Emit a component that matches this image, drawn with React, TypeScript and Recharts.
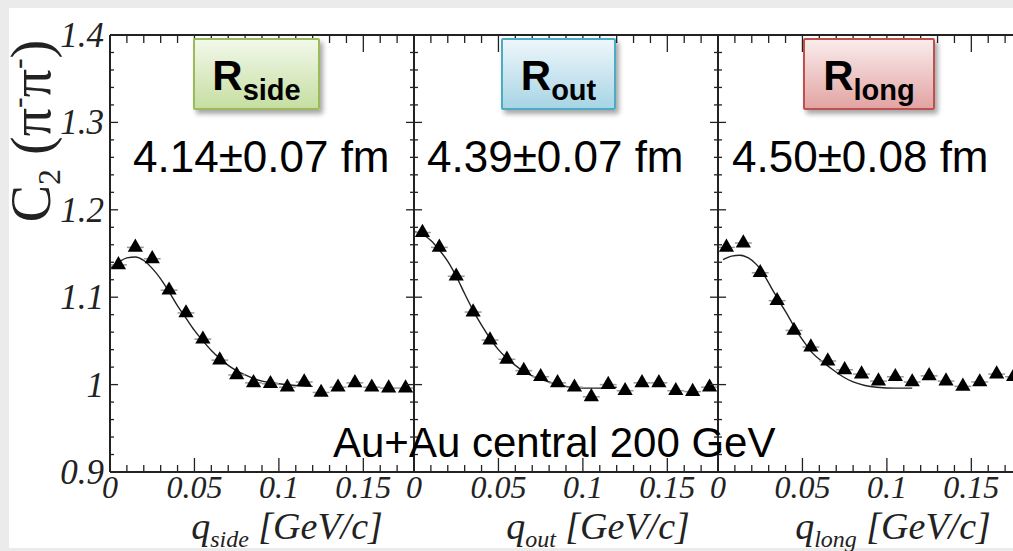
import React from 'react'
import { ComposedChart, Line, Scatter, XAxis, YAxis, ZAxis, ErrorBar } from 'recharts'

// q bin centres (GeV/c), same binning in all three projections
const qBins = [
  0.005, 0.015, 0.025, 0.035, 0.045, 0.055, 0.065, 0.075, 0.085,
  0.095, 0.105, 0.115, 0.125, 0.135, 0.145, 0.155, 0.165, 0.175,
]

// measured C2 per projection
const c2Side = [1.137, 1.157, 1.144, 1.108, 1.082, 1.052, 1.028, 1.011, 1.002, 1.001, 0.997, 1.003, 0.991, 0.997, 1.002, 0.997, 0.996, 0.996]
const c2Out = [1.174, 1.157, 1.124, 1.083, 1.051, 1.029, 1.016, 1.009, 1.002, 0.997, 0.986, 1.0, 0.993, 1.002, 1.002, 0.993, 0.992, 0.997]
const c2Long = [1.157, 1.162, 1.128, 1.096, 1.062, 1.043, 1.027, 1.017, 1.012, 1.004, 1.009, 1.003, 1.01, 1.004, 0.998, 1.003, 1.012, 1.009]

const qHalfBin = 0.005
const c2Err = 0.004

// fit curves
const fitSideQ = [0, 0.005, 0.01, 0.015, 0.02, 0.025, 0.03, 0.035, 0.04, 0.045, 0.05, 0.055, 0.06, 0.065, 0.07, 0.08, 0.09, 0.1, 0.11, 0.12]
const fitSideC = [1.133, 1.14, 1.145, 1.146, 1.142, 1.133, 1.121, 1.106, 1.09, 1.076, 1.062, 1.05, 1.039, 1.03, 1.022, 1.011, 1.004, 1.001, 0.999, 0.998]
const fitOutQ = [0, 0.005, 0.01, 0.015, 0.02, 0.025, 0.03, 0.035, 0.04, 0.045, 0.05, 0.055, 0.06, 0.065, 0.07, 0.08, 0.09, 0.1, 0.11, 0.12]
const fitOutC = [1.175, 1.172, 1.165, 1.154, 1.141, 1.124, 1.104, 1.085, 1.068, 1.053, 1.04, 1.03, 1.022, 1.015, 1.01, 1.003, 0.998, 0.996, 0.996, 0.997]
const fitLongQ = [0.003, 0.008, 0.013, 0.018, 0.023, 0.028, 0.033, 0.037, 0.042, 0.047, 0.052, 0.056, 0.062, 0.068, 0.074, 0.08, 0.087, 0.094, 0.105, 0.115]
const fitLongC = [1.143, 1.147, 1.148, 1.145, 1.137, 1.123, 1.106, 1.093, 1.077, 1.06, 1.046, 1.036, 1.026, 1.017, 1.009, 1.003, 0.999, 0.997, 0.996, 0.996]

// axes
const xTicks = [0, 0.01, 0.02, 0.03, 0.04, 0.05, 0.06, 0.07, 0.08, 0.09, 0.1, 0.11, 0.12, 0.13, 0.14, 0.15, 0.16, 0.17, 0.18]
const xMajor = [0, 0.05, 0.1, 0.15]
const xMajorLabels = ['0', '0.05', '0.1', '0.15']
const yTicks = [0.9, 0.92, 0.94, 0.96, 0.98, 1.0, 1.02, 1.04, 1.06, 1.08, 1.1, 1.12, 1.14, 1.16, 1.18, 1.2, 1.22, 1.24, 1.26, 1.28, 1.3, 1.32, 1.34, 1.36, 1.38, 1.4]
const yMajor = [0.9, 1.0, 1.1, 1.2, 1.3, 1.4]
const yMajorLabels = ['0.9', '1', '1.1', '1.2', '1.3', '1.4']

const projections = ['side', 'out', 'long']
const radii = ['4.14±0.07 fm', '4.39±0.07 fm', '4.50±0.08 fm']
const caption = 'Au+Au central 200 GeV'

const W = 1013
const H = 551
const CHART_W = 1040
const PLOT_TOP = 35
const PLOT_BOTTOM = 472
const AXIS = '#222'
const SERIF = '"Liberation Serif", "Times New Roman", serif'
const SANS = '"Liberation Sans", Arial, sans-serif'

const toRows = (q: number[], c: number[]) => q.map((v, i) => ({ q: v, c: c[i] }))
const toPoints = (c: number[]) => qBins.map((q, i) => ({ q, c: c[i], ex: qHalfBin, ey: c2Err }))

const panels = [
  { left: 110, right: 414, points: toPoints(c2Side), fit: toRows(fitSideQ, fitSideC), titleX: 287,
    box: { x: 193, w: 127, top: '#f2f8ea', bottom: '#c6dea2', border: '#9bbb59' }, radiusX: 133 },
  { left: 414, right: 718, points: toPoints(c2Out), fit: toRows(fitOutQ, fitOutC), titleX: 598,
    box: { x: 501, w: 115, top: '#eef7fb', bottom: '#a8d5e5', border: '#4bacc6' }, radiusX: 427 },
  { left: 718, right: 1022, points: toPoints(c2Long), fit: toRows(fitLongQ, fitLongC), titleX: 893,
    box: { x: 803, w: 132, top: '#faecec', bottom: '#e2a4a3', border: '#c0504d' }, radiusX: 732 },
]

const labelFor = (v: number, majors: number[], labels: string[]) => {
  const i = majors.findIndex((m) => Math.abs(m - v) < 1e-6)
  return i < 0 ? null : labels[i]
}

// tick marks point into the frame; only the bottom/left ones carry numbers
function XTick(props: any) {
  const { x, y, payload, side, showLabels } = props
  const label = labelFor(payload.value, xMajor, xMajorLabels)
  const len = side === 'top' ? (label !== null ? 17 : 8) : (label !== null ? 14 : 7)
  const y2 = side === 'top' ? y + len : y - len
  return (
    <g>
      <line x1={x} x2={x} y1={y} y2={y2} stroke={AXIS} strokeWidth={1.3} />
      {showLabels && label !== null && (
        <text x={x} y={y + 26} textAnchor="middle" fontFamily={SERIF} fontStyle="italic" fontSize={32} fill="#222">
          {label}
        </text>
      )}
    </g>
  )
}

function YTick(props: any) {
  const { x, y, payload, side, showLabels } = props
  const label = labelFor(payload.value, yMajor, yMajorLabels)
  const len = label !== null ? 8 : 4
  const x2 = side === 'right' ? x - len : x + len
  return (
    <g>
      <line x1={x} x2={x2} y1={y} y2={y} stroke={AXIS} strokeWidth={1.3} />
      {showLabels && label !== null && (
        <text x={x - 6} y={y + 12} textAnchor="end" fontFamily={SERIF} fontStyle="italic" fontSize={35} fill="#222">
          {label}
        </text>
      )}
    </g>
  )
}

function Panel({ p, first }: { p: (typeof panels)[number]; first: boolean }) {
  const axisLine = { stroke: AXIS, strokeWidth: 2 }
  // each axis takes a 1px band, so the margins are one pixel short of the plot edges
  return (
    <ComposedChart
      width={CHART_W}
      height={H}
      margin={{ top: PLOT_TOP - 1, bottom: H - PLOT_BOTTOM - 1, left: p.left - 1, right: CHART_W - p.right - 1 }}
      style={{ position: 'absolute', left: 0, top: 0 }}
    >
      <XAxis xAxisId="b" dataKey="q" type="number" domain={[0, 0.18]} ticks={xTicks} interval={0}
        allowDataOverflow height={1} tickSize={0} tickMargin={0} tickLine={false} axisLine={axisLine}
        tick={(t: any) => <XTick {...t} side="bottom" showLabels />} />
      <XAxis xAxisId="t" orientation="top" dataKey="q" type="number" domain={[0, 0.18]} ticks={xTicks} interval={0}
        allowDataOverflow height={1} tickSize={0} tickMargin={0} tickLine={false} axisLine={axisLine}
        tick={(t: any) => <XTick {...t} side="top" />} />
      <YAxis yAxisId="l" type="number" domain={[0.9, 1.4]} ticks={yTicks} interval={0} allowDataOverflow
        width={1} tickSize={0} tickMargin={0} tickLine={false} axisLine={axisLine}
        tick={(t: any) => <YTick {...t} side="left" showLabels={first} />} />
      <YAxis yAxisId="r" orientation="right" type="number" domain={[0.9, 1.4]} ticks={yTicks} interval={0}
        allowDataOverflow width={1} tickSize={0} tickMargin={0} tickLine={false} axisLine={axisLine}
        tick={(t: any) => <YTick {...t} side="right" />} />
      <ZAxis range={[100, 100]} />
      {/* keeps the top/right frame axes bound to a series */}
      <Line xAxisId="t" yAxisId="r" data={p.fit} dataKey="c" stroke="none" dot={false} isAnimationActive={false} />
      <Line xAxisId="b" yAxisId="l" data={p.fit} dataKey="c" type="monotone" stroke="#222" strokeWidth={1.4}
        dot={false} isAnimationActive={false} />
      <Scatter xAxisId="b" yAxisId="l" data={p.points} dataKey="c" shape="triangle" fill="#000" isAnimationActive={false}>
        <ErrorBar dataKey="ex" direction="x" width={0} stroke="#999" strokeWidth={1.5} />
        <ErrorBar dataKey="ey" direction="y" width={0} stroke="#666" strokeWidth={1} />
      </Scatter>
    </ComposedChart>
  )
}

export default function App() {
  return (
    <div style={{ position: 'fixed', left: 0, top: 0, width: W, height: H, background: '#ebebeb', overflow: 'hidden' }}>
      <div style={{ position: 'absolute', left: 9, top: 8, width: W - 9, height: 540, background: '#fff' }} />
      {panels.map((p, i) => (
        <Panel key={projections[i]} p={p} first={i === 0} />
      ))}
      {panels.map((p, i) => (
        <div
          key={'box-' + projections[i]}
          style={{
            position: 'absolute', left: p.box.x, top: 38, width: p.box.w, height: 72, boxSizing: 'border-box',
            border: `2.5px solid ${p.box.border}`, borderRadius: 2,
            background: `linear-gradient(${p.box.top}, ${p.box.bottom})`,
            boxShadow: '3px 4px 5px rgba(0,0,0,0.35)',
          }}
        />
      ))}
      <svg width={W} height={H} style={{ position: 'absolute', left: 0, top: 0 }}>
        {panels.map((p, i) => (
          <g key={'txt-' + projections[i]}>
            <text x={p.box.x + p.box.w / 2} y={90} textAnchor="middle" fontFamily={SANS} fontWeight="bold" fill="#000">
              <tspan fontSize={42}>R</tspan>
              <tspan fontSize={29} dy={10}>{projections[i]}</tspan>
            </text>
            <text x={p.radiusX} y={172} fontFamily={SANS} fontSize={44} fill="#000">{radii[i]}</text>
            <text x={p.titleX} y={539} textAnchor="middle" fontFamily={SERIF} fontStyle="italic" fontSize={38} fill="#222">
              <tspan>q</tspan>
              <tspan fontSize={24} dy={8}>{projections[i]}</tspan>
              <tspan dy={-8}> [GeV/c]</tspan>
            </text>
          </g>
        ))}
        <text x={333} y={457} fontFamily={SANS} fontSize={42} fill="#000">{caption}</text>
        <text transform="translate(50 131) rotate(-90)" textAnchor="middle" fontFamily={SERIF} fontSize={56} fill="#222">
          <tspan>C</tspan>
          <tspan fontSize={32} dy={10}>2</tspan>
          <tspan dy={-10}> (π</tspan>
          <tspan fontSize={32} dy={-22}>-</tspan>
          <tspan dy={22}>π</tspan>
          <tspan fontSize={32} dy={-22}>-</tspan>
          <tspan dy={22}>)</tspan>
        </text>
      </svg>
    </div>
  )
}
